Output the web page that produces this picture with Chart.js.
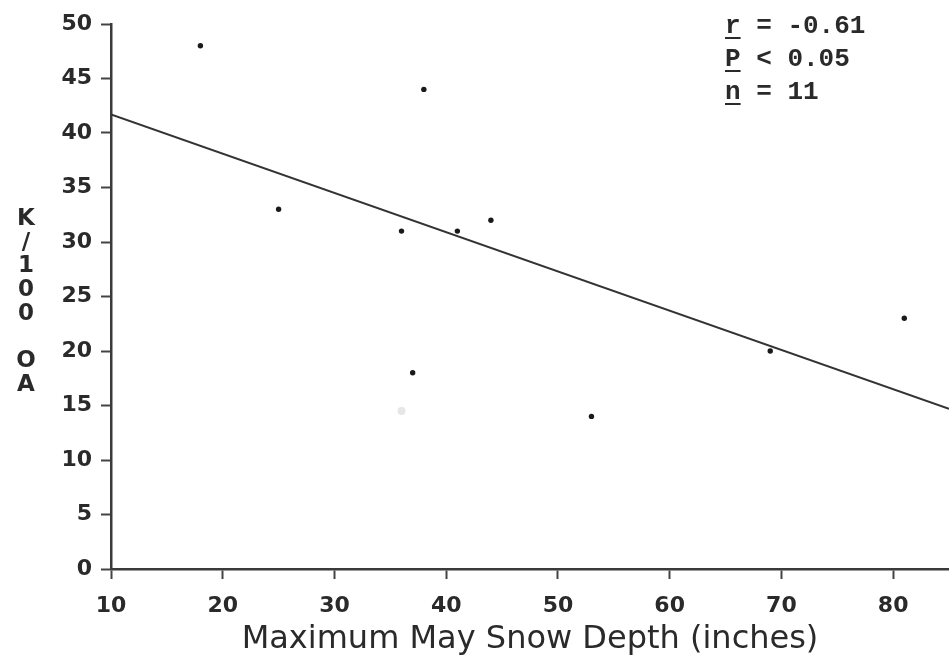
<!DOCTYPE html>
<html>
<head>
<meta charset="utf-8">
<script src="https://cdn.jsdelivr.net/npm/chart.js@4"></script>
<style>
  html, body { margin: 0; padding: 0; background: #fff; overflow: hidden; }
  #wrap { width: 953px; height: 659px; position: relative; }
</style>
</head>
<body>
<div id="wrap"><canvas id="snowChart"></canvas></div>
<script>
// data
var snowDepth = [18, 25, 36, 38, 41, 44, 37, 53, 69, 81];
var kPer100 = [48, 33, 31, 44, 31, 32, 18, 14, 20, 23];
// faint 11th point
var faintX = [36];
var faintY = [14.5];
// regression line ends
var regX = [10, 85];
var regY = [41.7, 14.7];
var yTitle = "K/100 OA";
var statLines = [
  ["r", " = -0.61"],
  ["P", " < 0.05"],
  ["n", " = 11"],
];

var ink = "#2a2a2a";

function toPoints(xs, ys) {
  return xs.map((x, i) => ({ x: x, y: ys[i] }));
}

// stacked y axis title and the r/P/n box
const textPlugin = {
  id: "textPlugin",
  afterDraw(chart) {
    const ctx = chart.ctx;
    ctx.save();
    ctx.fillStyle = ink;
    ctx.textAlign = "center";
    ctx.textBaseline = "middle";
    ctx.font = "bold 23px 'DejaVu Sans'";
    var chars = yTitle.split("");
    chars.forEach((c, i) => {
      ctx.fillText(c, 26, 219 + i * 23.7);
    });

    ctx.font = "bold 26px 'Liberation Mono'";
    ctx.textAlign = "left";
    ctx.textBaseline = "alphabetic";
    ctx.strokeStyle = ink;
    ctx.lineWidth = 2;
    statLines.forEach((ln, i) => {
      var y = 33 + i * 33;
      ctx.fillText(ln[0] + ln[1], 725, y);
      var w = ctx.measureText(ln[0]).width;
      ctx.beginPath();
      ctx.moveTo(725, y + 5);
      ctx.lineTo(725 + w, y + 5);
      ctx.stroke();
    });
    ctx.restore();
  },
};

const ctx = document.getElementById("snowChart").getContext("2d");
const snowChart = new Chart(ctx, {
  type: "scatter",
  data: {
    datasets: [
      {
        label: "Regression",
        type: "line",
        data: toPoints(regX, regY),
        borderColor: "#333",
        borderWidth: 2,
        pointRadius: 0,
        fill: false,
      },
      {
        label: "Faint",
        data: toPoints(faintX, faintY),
        backgroundColor: "#e6e6e6",
        borderWidth: 0,
        pointRadius: 4,
      },
      {
        label: "K/100 OA",
        data: toPoints(snowDepth, kPer100),
        backgroundColor: "#1a1a1a",
        borderWidth: 0,
        pointRadius: 2.7,
      },
    ],
  },
  options: {
    responsive: true,
    maintainAspectRatio: false,
    animation: false,
    layout: { padding: { top: 24, right: 0, bottom: 0, left: 0 } },
    plugins: {
      legend: { display: false },
      tooltip: { enabled: false },
    },
    scales: {
      x: {
        type: "linear",
        min: 10,
        max: 85,
        afterFit: (scale) => { scale.height = 90; },
        ticks: {
          stepSize: 10,
          includeBounds: false,
          padding: 14,
          color: ink,
          font: { family: "'DejaVu Sans'", size: 22, weight: "bold" },
        },
        grid: {
          drawOnChartArea: false,
          drawTicks: true,
          tickLength: 10,
          tickColor: "#444",
          tickWidth: 2,
        },
        border: { display: true, color: "#3a3a3a", width: 2.5 },
        title: {
          display: true,
          text: "Maximum May Snow Depth (inches)",
          color: ink,
          font: { family: "'DejaVu Sans'", size: 32 },
          padding: { top: 2, bottom: 0 },
        },
      },
      y: {
        min: 0,
        max: 50,
        afterFit: (scale) => { scale.width = 111; },
        ticks: {
          stepSize: 5,
          padding: 9,
          color: ink,
          font: { family: "'DejaVu Sans'", size: 22, weight: "bold" },
        },
        grid: {
          drawOnChartArea: false,
          drawTicks: true,
          tickLength: 10,
          tickColor: "#444",
          tickWidth: 2,
        },
        border: { display: true, color: "#3a3a3a", width: 2.5 },
      },
    },
  },
  plugins: [textPlugin],
});
</script>
</body>
</html>
